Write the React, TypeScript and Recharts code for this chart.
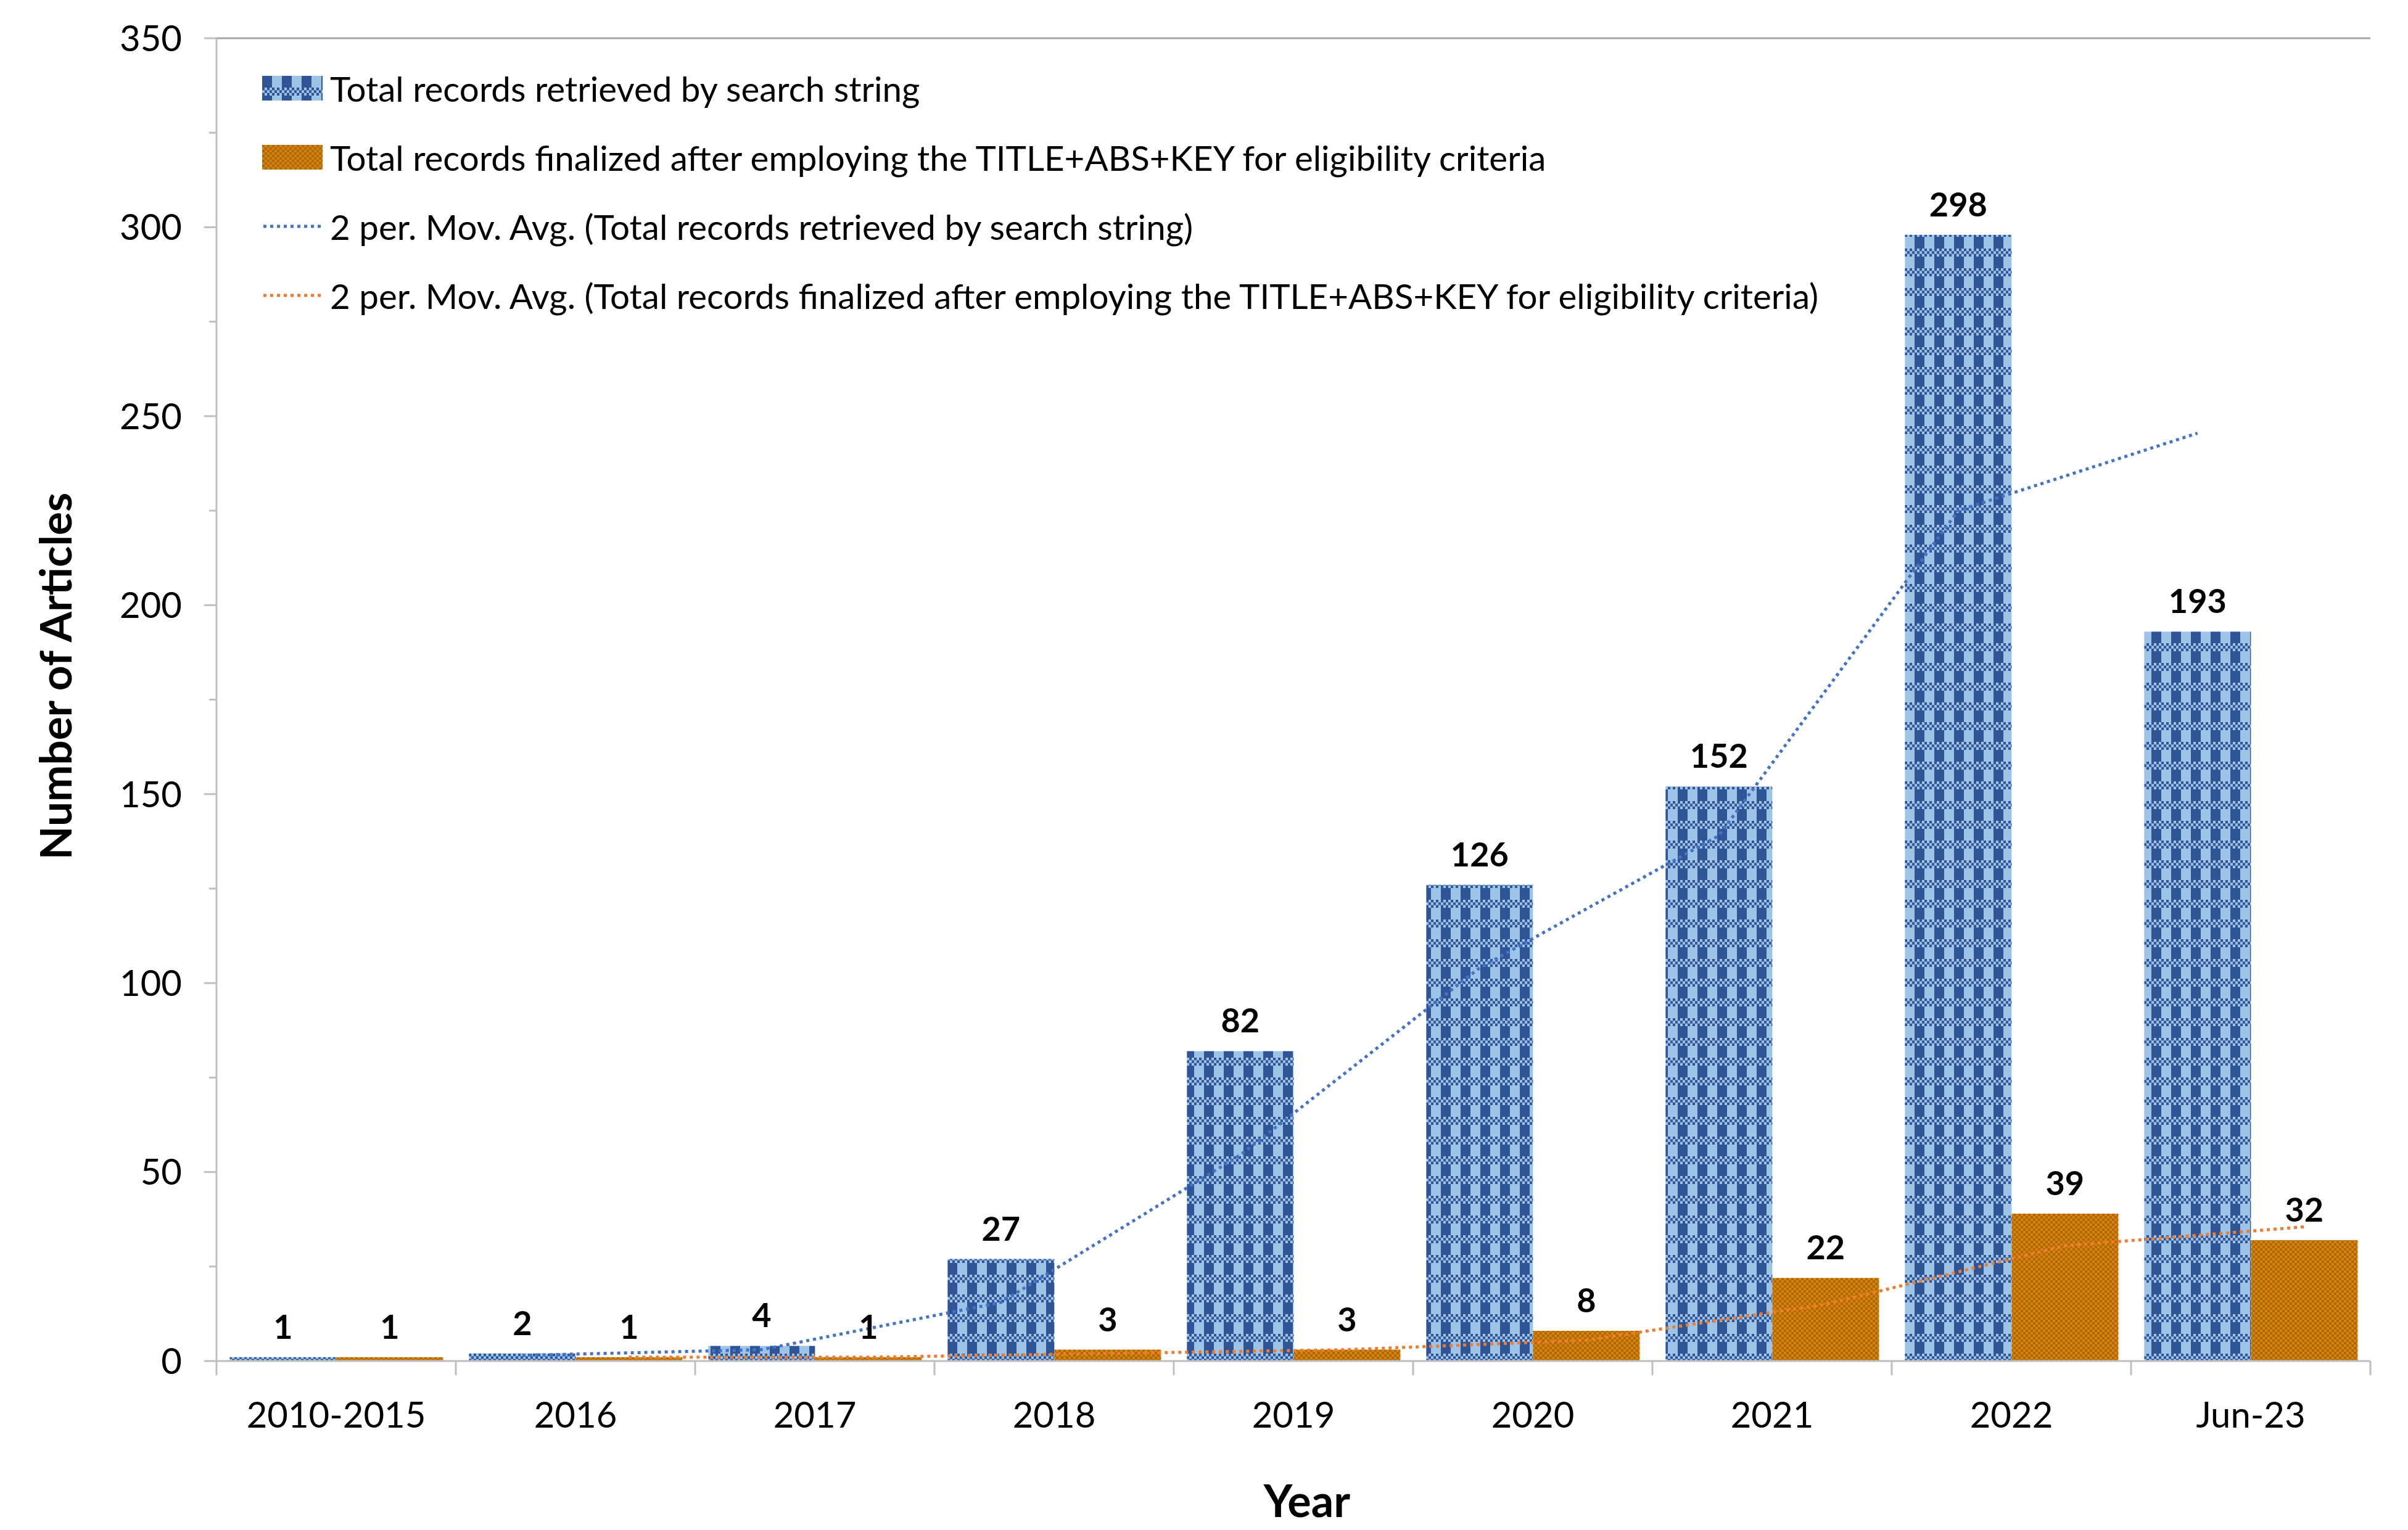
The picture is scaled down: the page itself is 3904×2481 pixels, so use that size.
import React from 'react';
import { ComposedChart, Bar, Line, XAxis, YAxis, LabelList, ReferenceLine, Label } from 'recharts';

// values
const CATEGORIES = ['2010-2015', '2016', '2017', '2018', '2019', '2020', '2021', '2022', 'Jun-23'];
const RETRIEVED = [1, 2, 4, 27, 82, 126, 152, 298, 193];
const FINALIZED = [1, 1, 1, 3, 3, 8, 22, 39, 32];
// 2-period moving average trendlines, as plotted
const RETRIEVED_MA = [null, 1.5, 3, 15.5, 54.5, 104, 139, 225, 245.5];
const FINALIZED_MA = [null, 1, 1, 2, 3, 5.5, 15, 30.5, 35.5];
const Y_LABELS = [0, 50, 100, 150, 200, 250, 300, 350];
const Y_MINOR = [25, 75, 125, 175, 225, 275, 325];

const SERIES_NAMES = [
  'Total records retrieved by search string',
  'Total records finalized after employing the TITLE+ABS+KEY for eligibility criteria',
  '2 per. Mov. Avg. (Total records retrieved by search string)',
  '2 per. Mov. Avg. (Total records finalized after employing the TITLE+ABS+KEY for eligibility criteria)',
];

const data = CATEGORIES.map((category, i) => ({
  category,
  retrieved: RETRIEVED[i],
  finalized: FINALIZED[i],
  retrievedMa: RETRIEVED_MA[i],
  finalizedMa: FINALIZED_MA[i],
}));

const FONT = 'Lato, "Open Sans", sans-serif';
const W = 3904;
const H = 2481;
const MARGIN = { top: 62, right: 61, bottom: 194, left: 0 };
const Y_AXIS_W = 351;
const X_AXIS_H = 80;
const CAT_GAP = 0.055;
const plotW = W - MARGIN.left - Y_AXIS_W - MARGIN.right;
const band = plotW / CATEGORIES.length;
const halfBar = (band * (1 - 2 * CAT_GAP)) / 4;

const DARK_BLUE = '#2F5597';
const LIGHT_BLUE = '#9DC3E6';
const ORANGE = '#C55A11';
const GOLD = '#BF9000';
const AXIS = '#BFBFBF';
const FRAME = '#A6A6A6';

const Patterns = ({ prefix }: { prefix: string }) => (
  <defs>
    <pattern id={`${prefix}-blue`} patternUnits="userSpaceOnUse" width={32} height={32}>
      <rect width={32} height={32} fill={LIGHT_BLUE} />
      <rect x={0} y={0} width={16} height={19} fill={DARK_BLUE} />
      {[0, 1, 2, 3, 4, 5, 6, 7].map((i) =>
        [0, 1, 2].map((j) =>
          (i + j) % 2 === 0 ? (
            <rect key={`${i}-${j}`} x={i * 4} y={19 + j * 4.33} width={4} height={4.33} fill={DARK_BLUE} />
          ) : null
        )
      )}
    </pattern>
    <pattern id={`${prefix}-orange`} patternUnits="userSpaceOnUse" width={8} height={8}>
      <rect width={8} height={8} fill={GOLD} />
      <rect x={0} y={0} width={4} height={4} fill={ORANGE} />
      <rect x={4} y={4} width={4} height={4} fill={ORANGE} />
    </pattern>
  </defs>
);

const XTick = (props: any) => {
  const { x, y, payload, index } = props;
  const last = index === CATEGORIES.length - 1;
  return (
    <g>
      <line x1={x - band / 2} x2={x - band / 2} y1={y} y2={y + 23} stroke={AXIS} strokeWidth={3} />
      {last && <line x1={x + band / 2} x2={x + band / 2} y1={y} y2={y + 23} stroke={AXIS} strokeWidth={3} />}
      <text x={x} y={y + 108} textAnchor="middle" fontSize={58} fontFamily={FONT} fill="#000">
        {payload.value}
      </text>
    </g>
  );
};

const YTick = (props: any) => {
  const { x, y, payload } = props;
  const major = Y_LABELS.includes(payload.value);
  return (
    <g>
      <line x1={x - (major ? 20 : 12)} x2={x} y1={y} y2={y} stroke={AXIS} strokeWidth={3} />
      {major && (
        <text x={x - 56} y={y} dy="0.36em" textAnchor="end" fontSize={58} fontFamily={FONT} fill="#000">
          {payload.value}
        </text>
      )}
    </g>
  );
};

const LegendBox = () => {
  const rows = [
    <rect width={98} height={40} fill="url(#lg-blue)" />,
    <rect width={98} height={40} fill="url(#lg-orange)" />,
    <line x1={2} x2={96} y1={20} y2={20} stroke="#4472C4" strokeWidth={5} strokeDasharray="5 6" />,
    <line x1={2} x2={96} y1={20} y2={20} stroke="#ED7D31" strokeWidth={5} strokeDasharray="5 6" />,
  ];
  return (
    <div style={{ position: 'absolute', left: 425, top: 87, fontFamily: FONT, fontSize: 56.5, color: '#000' }}>
      {rows.map((swatch, i) => (
        <div key={i} style={{ display: 'flex', alignItems: 'center', height: 112, whiteSpace: 'nowrap' }}>
          <svg width={98} height={40} style={{ marginRight: 12 }}>
            <Patterns prefix="lg" />
            {swatch}
          </svg>
          <span>{SERIES_NAMES[i]}</span>
        </div>
      ))}
    </div>
  );
};

export default function App() {
  return (
    <div style={{ position: 'absolute', left: 0, top: 0, width: W, height: H, background: '#fff' }}>
      <ComposedChart width={W} height={H} data={data} margin={MARGIN} barCategoryGap={`${CAT_GAP * 100}%`} barGap={0}>
        <Patterns prefix="ch" />
        <XAxis
          dataKey="category"
          height={X_AXIS_H}
          tickSize={0}
          tickMargin={0}
          interval={0}
          tick={<XTick />}
          axisLine={{ stroke: AXIS, strokeWidth: 3 }}
          tickLine={false}
        >
          <Label value="Year" position="bottom" offset={122} dx={22} fontSize={72} fontWeight={700} fontFamily={FONT} fill="#000" />
        </XAxis>
        <XAxis xAxisId="maBlue" dataKey="category" hide padding={{ left: -halfBar, right: halfBar }} />
        <XAxis xAxisId="maOrange" dataKey="category" hide padding={{ left: halfBar, right: -halfBar }} />
        <YAxis
          width={Y_AXIS_W}
          domain={[0, 350]}
          ticks={[...Y_LABELS, ...Y_MINOR].sort((a, b) => a - b)}
          interval={0}
          tickSize={0}
          tickMargin={0}
          tick={<YTick />}
          tickLine={false}
          axisLine={{ stroke: AXIS, strokeWidth: 3 }}
        >
          <Label
            position="insideLeft"
            content={(p: any) => {
              const vb = p.viewBox || {};
              const cx = vb.x + 88;
              const cy = vb.y + vb.height / 2 - 38;
              return (
                <text
                  x={cx}
                  y={cy}
                  transform={`rotate(-90, ${cx}, ${cy})`}
                  textAnchor="middle"
                  dominantBaseline="central"
                  fontSize={71}
                  fontWeight={700}
                  fontFamily={FONT}
                  fill="#000"
                >
                  Number of Articles
                </text>
              );
            }}
          />
        </YAxis>
        <YAxis
          yAxisId="frame"
          orientation="right"
          width={0}
          domain={[0, 350]}
          tick={false}
          tickLine={false}
          axisLine={{ stroke: FRAME, strokeWidth: 3 }}
        />
        <ReferenceLine y={350} stroke={FRAME} strokeWidth={3} />
        <Bar dataKey="retrieved" name={SERIES_NAMES[0]} fill="url(#ch-blue)" isAnimationActive={false}>
          <LabelList dataKey="retrieved" position="top" offset={30} fontSize={54} fontWeight={700} fontFamily={FONT} fill="#000" />
        </Bar>
        <Bar dataKey="finalized" name={SERIES_NAMES[1]} fill="url(#ch-orange)" isAnimationActive={false}>
          <LabelList dataKey="finalized" position="top" offset={30} fontSize={54} fontWeight={700} fontFamily={FONT} fill="#000" />
        </Bar>
        <Line
          xAxisId="maBlue"
          dataKey="retrievedMa"
          name={SERIES_NAMES[2]}
          type="linear"
          stroke="#4472C4"
          strokeWidth={5}
          strokeDasharray="5 6"
          dot={false}
          activeDot={false}
          connectNulls
          isAnimationActive={false}
        />
        <Line
          xAxisId="maOrange"
          dataKey="finalizedMa"
          name={SERIES_NAMES[3]}
          type="linear"
          stroke="#ED7D31"
          strokeWidth={5}
          strokeDasharray="5 6"
          dot={false}
          activeDot={false}
          connectNulls
          isAnimationActive={false}
        />
      </ComposedChart>
      <LegendBox />
    </div>
  );
}
